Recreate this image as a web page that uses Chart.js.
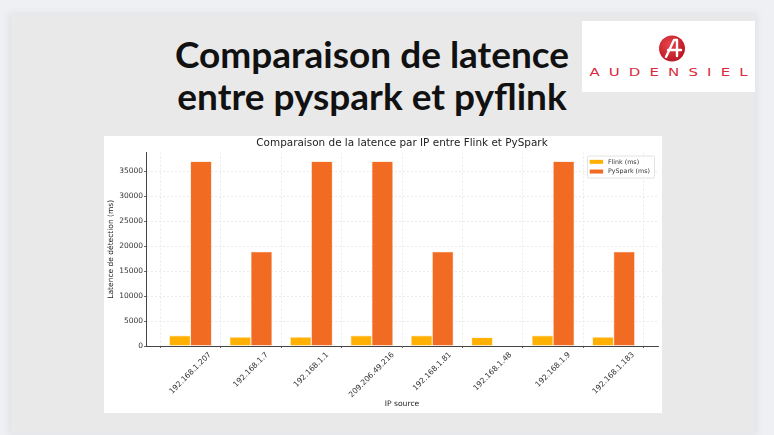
<!DOCTYPE html>
<html>
<head>
<meta charset="utf-8">
<script src="https://cdn.jsdelivr.net/npm/chart.js@4/dist/chart.umd.min.js"></script>
<style>
  html,body{margin:0;padding:0;}
  body{width:774px;height:435px;background:#eef0f3;position:relative;overflow:hidden;font-family:Lato,sans-serif;}
  #slide{position:absolute;left:11px;top:15px;width:744px;height:418px;background:#e9e9e9;box-shadow:0 0 6px 2px rgba(220,222,228,0.8);}
  #title{position:absolute;left:72px;top:33px;width:600px;text-align:center;font-family:Lato;font-weight:bold;font-size:37px;line-height:41.6px;color:#111;}
  #logo{position:absolute;left:582px;top:21px;width:173px;height:71px;background:#fff;}
  #logotext{position:absolute;left:0;top:44px;width:173px;text-align:center;font-family:"DejaVu Sans";font-weight:normal;font-size:12.5px;letter-spacing:7.6px;text-indent:7.6px;color:#d92a3c;transform:scale(1.2,0.88);white-space:nowrap;}
  #chartbox{position:absolute;left:104px;top:136px;width:558px;height:277px;background:#fff;}
  canvas{display:block;}
</style>
</head>
<body>
<div id="slide"></div>
<div id="title">Comparaison de latence<br>entre pyspark et pyflink</div>
<div id="logo">
  <svg width="173" height="71" style="position:absolute;left:0;top:0">
    <defs>
      <radialGradient id="rg" cx="0.4" cy="0.35" r="0.7">
        <stop offset="0" stop-color="#e8454a"/>
        <stop offset="1" stop-color="#b81422"/>
      </radialGradient>
    </defs>
    <circle cx="90" cy="27.5" r="13" fill="url(#rg)"/>
    <path d="M84 36 L92 19 L95 19 L95 35 M86 29 L99 29" stroke="#fff" stroke-width="2.4" fill="none" stroke-linecap="round" stroke-linejoin="round"/>
  </svg>
  <div id="logotext">AUDENSIEL</div>
</div>
<div id="chartbox"><canvas id="c" width="558" height="277"></canvas></div>
<script>
const categories = ["192.168.1.207","192.168.1.7","192.168.1.1","209.206.49.216","192.168.1.81","192.168.1.48","192.168.1.9","192.168.1.183"];
const flinkMs   = [2100, 1800, 1800, 2100, 2100, 1700, 2100, 1800];
const pysparkMs = [37000, 18900, 37000, 37000, 18900, null, 37000, 18900];
const yTicks    = [0, 5000, 10000, 15000, 20000, 25000, 30000, 35000];
const seriesLabels = ["Flink (ms)", "PySpark (ms)"];

const tickFont = {family:"DejaVu Sans", size:7.5};
const gridColor = '#e6e6e6';

const legendInside = {
  id:'legendInside',
  afterLayout(chart){
    const t = chart.titleBlock, a = chart.chartArea;
    if (t && a) { t.left = a.left; t.right = a.right; t.width = a.right - a.left; }
  },
  afterDraw(chart){
    const ctx = chart.ctx, a = chart.chartArea;
    // x tick labels, rotated 45 deg, bounding box centered on the tick
    const xs = chart.scales.x;
    ctx.save();
    ctx.font = '7.6px "DejaVu Sans"';
    ctx.fillStyle = '#333';
    ctx.textAlign = 'center';
    ctx.textBaseline = 'middle';
    categories.forEach((lab, i) => {
      const px = xs.getPixelForValue(i);
      const w = ctx.measureText(lab).width;
      const s = (w + 7.6 * 1.16) * Math.SQRT1_2;
      ctx.save();
      ctx.translate(px, xs.top + 4.5 + s / 2);
      ctx.rotate(-Math.PI / 4);
      ctx.fillText(lab, 0, 0);
      ctx.restore();
    });
    ctx.restore();

    // legend inside the plot, top right
    const w = 67, h = 22;
    const x = a.right - 4 - w, y = a.top + 3;
    ctx.save();
    ctx.fillStyle = 'rgba(255,255,255,0.85)';
    ctx.strokeStyle = '#dcdcdc';
    ctx.lineWidth = 0.8;
    ctx.beginPath();
    ctx.roundRect(x+0.5, y+0.5, w, h, 1.5);
    ctx.fill(); ctx.stroke();
    ctx.font = '6.3px "DejaVu Sans"';
    ctx.textAlign = 'left';
    ctx.textBaseline = 'middle';
    chart.data.datasets.forEach((ds,i)=>{
      const cy = y + 6.3 + i*9.7;
      ctx.fillStyle = ds.backgroundColor;
      ctx.fillRect(x+2.7, cy-2, 13.4, 4);
      ctx.fillStyle = '#333';
      ctx.fillText(ds.label, x+21, cy+0.3);
    });
    ctx.restore();
  }
};

new Chart(document.getElementById('c'), {
  type:'bar',
  data:{
    datasets:[
      {label:seriesLabels[0], data:categories.map((c,i)=>({x:i,y:flinkMs[i]})), backgroundColor:'#ffb000', borderColor:'rgba(255,220,150,0.9)', borderWidth:0.6, categoryPercentage:0.7, barPercentage:1.0},
      {label:seriesLabels[1], data:categories.map((c,i)=>({x:i,y:pysparkMs[i]})), backgroundColor:'#f26b23', borderColor:'rgba(250,175,140,0.9)', borderWidth:0.6, categoryPercentage:0.7, barPercentage:1.0}
    ]
  },
  options:{
    responsive:false,
    animation:false,
    devicePixelRatio:1,
    layout:{padding:{left:0,right:4,top:0,bottom:0}},
    plugins:{
      legend:{display:false},
      tooltip:{enabled:false},
      title:{display:true, text:'Comparaison de la latence par IP entre Flink et PySpark', color:'#222', font:{family:"DejaVu Sans", size:10.45, weight:'normal'}, padding:{top:1,bottom:3}}
    },
    scales:{
      x:{
        type:'linear', min:-0.735, max:7.735, offset:false,
        afterBuildTicks(s){ s.ticks = categories.map((c,i)=>({value:i})); },
        afterFit(s){ s.height = 67; },
        ticks:{display:false, autoSkip:false},
        grid:{color:gridColor, lineWidth:0.8, tickColor:'#444', tickLength:2, tickBorderDash:[], drawTicks:true},
        border:{display:true, color:'#444', width:1, dash:[2,2]},
        title:{display:true, text:'IP source', color:'#222', font:{family:"DejaVu Sans", size:7.6}, padding:{top:2,bottom:4}}
      },
      y:{
        min:0, max:38800,
        afterBuildTicks(s){ s.ticks = yTicks.map(v=>({value:v})); },
        afterFit(s){ s.width = 42; },
        ticks:{font:tickFont, color:'#333', padding:1, callback:(v)=>String(v)},
        grid:{color:gridColor, lineWidth:0.8, tickColor:'#444', tickLength:2, tickBorderDash:[]},
        border:{display:true, color:'#444', width:1, dash:[2,2]},
        title:{display:true, text:'Latence de détection (ms)', color:'#222', font:{family:"DejaVu Sans", size:7.5}, padding:{top:3,bottom:0}}
      }
    }
  },
  plugins:[legendInside]
});
</script>
</body>
</html>
